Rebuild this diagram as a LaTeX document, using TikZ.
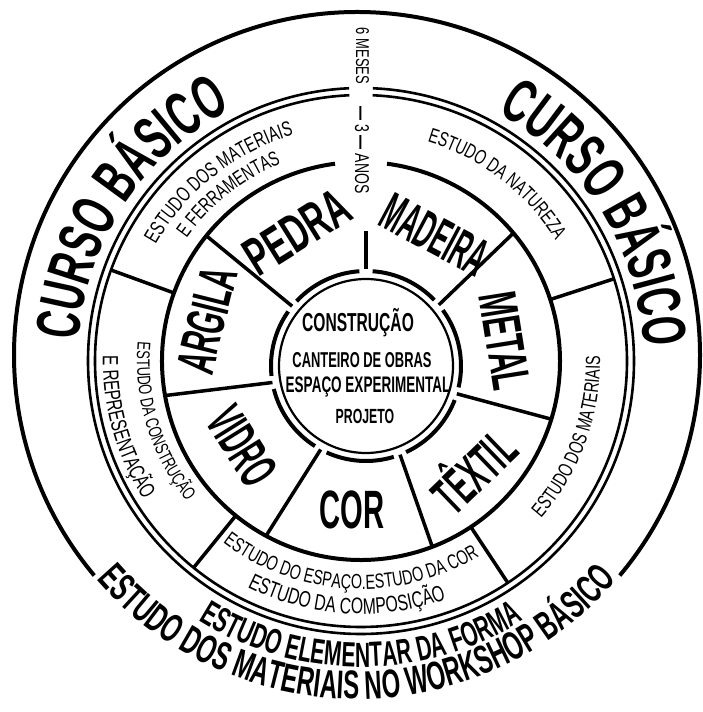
\documentclass[tikz,border=0pt]{standalone}
\usepackage{graphicx}
\usepackage{fontspec}
\setmainfont{Liberation Sans}
\newfontfamily\heavyfont{Liberation Sans}[FakeStretch=0.6]
\newfontfamily\lightfont{Liberation Sans}[FakeStretch=0.7]
\newcommand{\fsz}[1]{\fontsize{#1}{#1}\selectfont}
\usetikzlibrary{decorations.text,calc}

\begin{document}
\begin{tikzpicture}[
  x=1pt, y=1pt,
  rim/.style={line width=4pt},
  ring/.style={line width=4pt},
  dbl/.style={line width=2.6pt},
  divider/.style={line width=3.5pt},
  hair/.style={line width=2.2pt},
  mat/.style={font=\heavyfont\bfseries\fsz{54}, inner sep=0pt},
  core/.style={font=\heavyfont\bfseries\fsz{#1}, inner sep=0pt},
  tag/.style={font=\lightfont\fsz{#1}, inner sep=0pt},
  along/.style 2 args={decorate, decoration={text along path, text align=center, text={|#1|#2}}}
]

\path[use as bounding box, fill=white] (-361,-351) rectangle (341,361);
\coordinate (c) at (0,0);
\coordinate (ci) at (5,-5);
\coordinate (co) at (-4,6);

% outer rim, open at the bottom for the lettering
\draw[rim] (co) ++(-40:343) arc[start angle=-40, end angle=220, radius=343];

% double ring and middle ring
\draw[dbl] (c) ++(92.5:266) arc[start angle=92.5, end angle=447.5, radius=266];
\draw[dbl] (c) ++(92.5:273) arc[start angle=92.5, end angle=447.5, radius=273];
\draw[ring] (c) ++(97.5:199) arc[start angle=97.5, end angle=442.5, radius=199];

% core ring, broken where the dividers meet it
\foreach \a/\b in {-114.5/-73, -65/-21, -13/36, 44/86, 94/137, 145/186, 194/237.5}
  \draw[ring] (ci) ++(\a:95) arc[start angle=\a, end angle=\b, radius=95];
\draw[hair] (ci) circle[radius=87];

% dividers
\foreach \a in {160,18,-56.5,-129}
  \draw[divider] (\a:199) -- (\a:266);
\foreach \a in {190,141,40,-17,-69,-118.5}
  \draw[divider] ($(ci)+(\a:95)$) -- (\a:199);
\draw[divider] ($(ci)+(90:97)$) -- ++(0,38);

% Curso basico
\path[along={\heavyfont\bfseries\fsz{62}}{CURSO BÁSICO}] (c) ++(185:283) arc[start angle=185, end angle=108, radius=283];
\path[along={\heavyfont\bfseries\fsz{62}}{CURSO BÁSICO}] (c) ++(70.5:283) arc[start angle=70.5, end angle=-6.5, radius=283];
\node[tag=18.5, rotate=-90] (meses) at (1.5,305) {6 MESES};
\node[tag=20, rotate=-90] (anos) at (1,211) {{\bfseries —} 3 {\bfseries —} ANOS};

% bottom lettering
\path[along={\heavyfont\bfseries\fsz{35}}{ESTUDO ELEMENTAR DA FORMA}] (c) ++(-125:306) arc[start angle=-125, end angle=-55, radius=306];
\path[along={\heavyfont\bfseries\fsz{40}}{ESTUDO DOS MATERIAIS NO WORKSHOP BÁSICO}] (co) ++(-143:344) arc[start angle=-143, end angle=-37, radius=344];

% studies
\path[along={\lightfont\fsz{21}}{ESTUDO DOS MATERIAIS}] (c) ++(163.5:236) arc[start angle=163.5, end angle=93.5, radius=236];
\path[along={\lightfont\fsz{20.5}}{E FERRAMENTAS}] (c) ++(163.5:213) arc[start angle=163.5, end angle=93.5, radius=213];
\path[along={\lightfont\fsz{20.5}}{ESTUDO DA NATUREZA}] (c) ++(88:229) arc[start angle=88, end angle=17, radius=229];
\path[along={\lightfont\fsz{20.5}}{ESTUDO DOS MATERIAIS}] (c) ++(-55:239) arc[start angle=-55, end angle=15, radius=239];
\path[along={\lightfont\fsz{20.5}}{ESTUDO DO ESPAÇO.ESTUDO DA COR}] (c) ++(-138:228) arc[start angle=-138, end angle=-48, radius=228];
\path[along={\lightfont\fsz{22.5}}{ESTUDO DA COMPOSIÇÃO}] (c) ++(-133.5:253) arc[start angle=-133.5, end angle=-53.5, radius=253];
\path[along={\lightfont\fsz{18.5}}{ESTUDO DA CONSTRUÇÃO}] (c) ++(162:224) arc[start angle=162, end angle=232, radius=224];
\path[along={\lightfont\fsz{22}}{E REPRESENTAÇÃO}] (c) ++(161:258) arc[start angle=161, end angle=230.4, radius=258];

% materials
\node[mat, rotate=32] (pedra) at (-64,129) {PEDRA};
\node[mat, rotate=-28] (madeira) at (74,126) {\scalebox{0.75}[1]{MADEIRA}};
\node[mat, rotate=-81] (metal) at (144,20) {\scalebox{0.9}[1]{METAL}};
\node[mat, rotate=44] (textil) at (110,-107) {\scalebox{0.82}[1]{TÊXTIL}};
\node[mat] (cor) at (-9,-149) {\scalebox{0.9}[1]{COR}};
\node[mat, rotate=-58] (vidro) at (-119,-85) {\scalebox{0.8}[1]{VIDRO}};
\node[mat, rotate=76] (argila) at (-154,41) {\scalebox{0.86}[1]{ARGILA}};

% centre
\node[core=26] (constr) at (-3,38) {CONSTRUÇÃO};
\node[core=21.5] (canteiro) at (1,1) {CANTEIRO DE OBRAS};
\node[core=22.5] (espaco) at (7,-26) {ESPAÇO EXPERIMENTAL};
\node[core=20.5] (projeto) at (4,-55) {PROJETO};

\end{tikzpicture}
\end{document}
